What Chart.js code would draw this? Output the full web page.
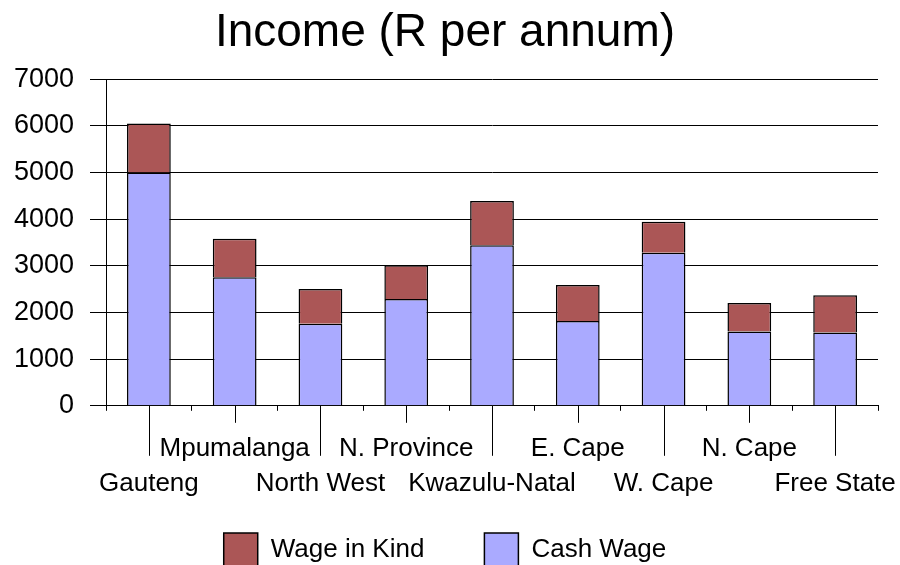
<!DOCTYPE html>
<html>
<head>
<meta charset="utf-8">
<script src="https://cdn.jsdelivr.net/npm/chart.js@4"></script>
<style>
  html, body { margin: 0; padding: 0; background: #fff; }
  #wrap { width: 900px; height: 565px; }
</style>
</head>
<body>
<div id="wrap"><canvas id="ingresos"></canvas></div>
<script>
// provinces, left to right
var provincias = ["Gauteng", "Mpumalanga", "North West", "N. Province", "Kwazulu-Natal",
  "E. Cape", "W. Cape", "N. Cape", "Free State"];
// R per annum
var cashWage = [5000, 2755, 1760, 2290, 3440, 1820, 3280, 1595, 1570];
var wageInKind = [1050, 825, 745, 720, 950, 770, 665, 610, 800];
var yTicks = [0, 1000, 2000, 3000, 4000, 5000, 6000, 7000];

var FUENTE = "Arial, 'Liberation Sans', sans-serif";

// labels alternate between a top and a bottom row
var etiquetas = provincias.map(function (p, i) {
  return i % 2 === 0 ? ["", p] : [p, ""];
});

// long / short tick lines under each bar
var lineasEje = {
  id: "lineasEje",
  afterDraw: function (chart) {
    var ctx = chart.ctx;
    var x = chart.scales.x;
    var base = chart.chartArea.bottom;
    ctx.save();
    ctx.strokeStyle = "#000";
    ctx.lineWidth = 1;
    for (var i = 0; i < provincias.length; i++) {
      var px = Math.round(x.getPixelForValue(i)) + 0.5;
      ctx.beginPath();
      ctx.moveTo(px, base);
      ctx.lineTo(px, base + (i % 2 === 0 ? 50 : 17));
      ctx.stroke();
    }
    ctx.restore();
  }
};

var ctx = document.getElementById("ingresos").getContext("2d");
var chart = new Chart(ctx, {
  type: "bar",
  data: {
    labels: etiquetas,
    datasets: [
      {
        label: "Cash Wage",
        data: cashWage,
        backgroundColor: "#AAAAFF",
        borderColor: "#000",
        borderWidth: 1.5
      },
      {
        label: "Wage in Kind",
        data: wageInKind,
        backgroundColor: "#AB5656",
        borderColor: "#000",
        borderWidth: 1.5
      }
    ]
  },
  options: {
    responsive: true,
    maintainAspectRatio: false,
    animation: false,
    layout: { padding: { left: 0, right: 10, top: 0, bottom: -12 } },
    datasets: {
      bar: { categoryPercentage: 1, barPercentage: 0.51 }
    },
    scales: {
      x: {
        stacked: true,
        afterFit: function (axis) {
          axis.height = axis.height - 48;
          axis.paddingLeft = 0;
          axis.paddingRight = 22;
          // labels of the lower row hang below the (shortened) axis box
          axis._computeLabelArea = function () {};
        },
        grid: { drawOnChartArea: false, color: "#000", tickLength: 5 },
        border: { color: "#000", width: 1 },
        ticks: {
          color: "#000",
          maxRotation: 0,
          autoSkip: false,
          padding: 20,
          font: { family: FUENTE, size: 26, lineHeight: 1.35 }
        }
      },
      y: {
        stacked: true,
        min: 0,
        max: 7000,
        afterBuildTicks: function (axis) {
          axis.ticks = yTicks.map(function (v) { return { value: v }; });
        },
        afterFit: function (axis) { axis.width = 106; },
        grid: { color: "#000", lineWidth: 1, tickLength: 16 },
        border: { color: "#000", width: 1 },
        ticks: {
          color: "#000",
          padding: 16,
          font: { family: FUENTE, size: 27 },
          callback: function (v) { return String(v); }
        }
      }
    },
    plugins: {
      title: {
        display: true,
        text: "Income (R per annum)",
        color: "#000",
        font: { family: FUENTE, size: 46, weight: "normal" },
        padding: { top: 6, bottom: 18 }
      },
      legend: {
        position: "bottom",
        reverse: true,
        labels: {
          color: "#000",
          boxWidth: 34,
          boxHeight: 34,
          padding: 60,
          font: { family: FUENTE, size: 26 }
        }
      },
      tooltip: { enabled: false }
    }
  },
  plugins: [lineasEje]
});
</script>
</body>
</html>
